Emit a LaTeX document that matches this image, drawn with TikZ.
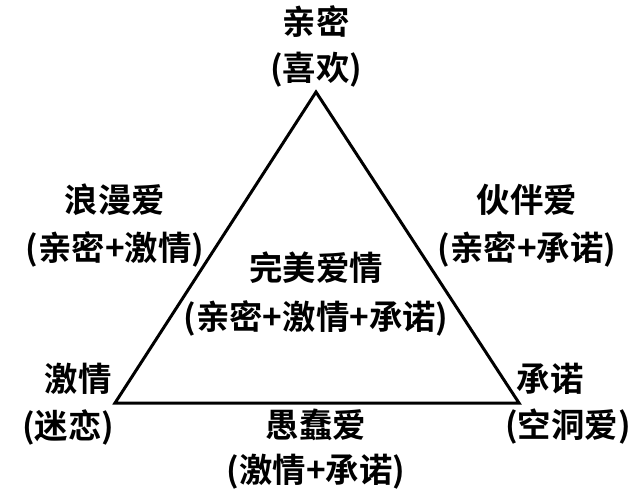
\documentclass[tikz,border=0pt]{standalone}
\usepackage{fontspec}
\newfontfamily\cjk{Noto Sans CJK SC Bold}
\begin{document}
\begin{tikzpicture}[x=0.02cm,y=-0.02cm,
  lbl/.style={font=\cjk\fontsize{19}{22}\selectfont,inner sep=0pt}]
\useasboundingbox (0,0) rectangle (641,500);
\coordinate (top) at (316,92);
\coordinate (lft) at (115,403);
\coordinate (rgt) at (519,403);
\draw[line width=1.7pt,line join=miter] (top) -- (lft) -- (rgt) -- cycle;
\node[lbl] (qm) at (316,22) {亲密};
\node[lbl] (xh) at (316,70) {(喜欢)};
\node[lbl] (lm) at (115,200) {浪漫爱};
\node[lbl] (lmsub) at (115,249) {(亲密+激情)};
\node[lbl] (hb) at (527,200) {伙伴爱};
\node[lbl] (hbsub) at (527,249) {(亲密+承诺)};
\node[lbl] (wm) at (316,268) {完美爱情};
\node[lbl] (wmsub) at (316,318) {(亲密+激情+承诺)};
\node[lbl] (jq) at (78,379) {激情};
\node[lbl] (ml) at (68,427) {(迷恋)};
\node[lbl] (cn) at (550,379) {承诺};
\node[lbl] (kd) at (568,427) {(空洞爱)};
\node[lbl] (yc) at (316,425) {愚蠢爱};
\node[lbl] (ycsub) at (316,472) {(激情+承诺)};
\end{tikzpicture}
\end{document}
